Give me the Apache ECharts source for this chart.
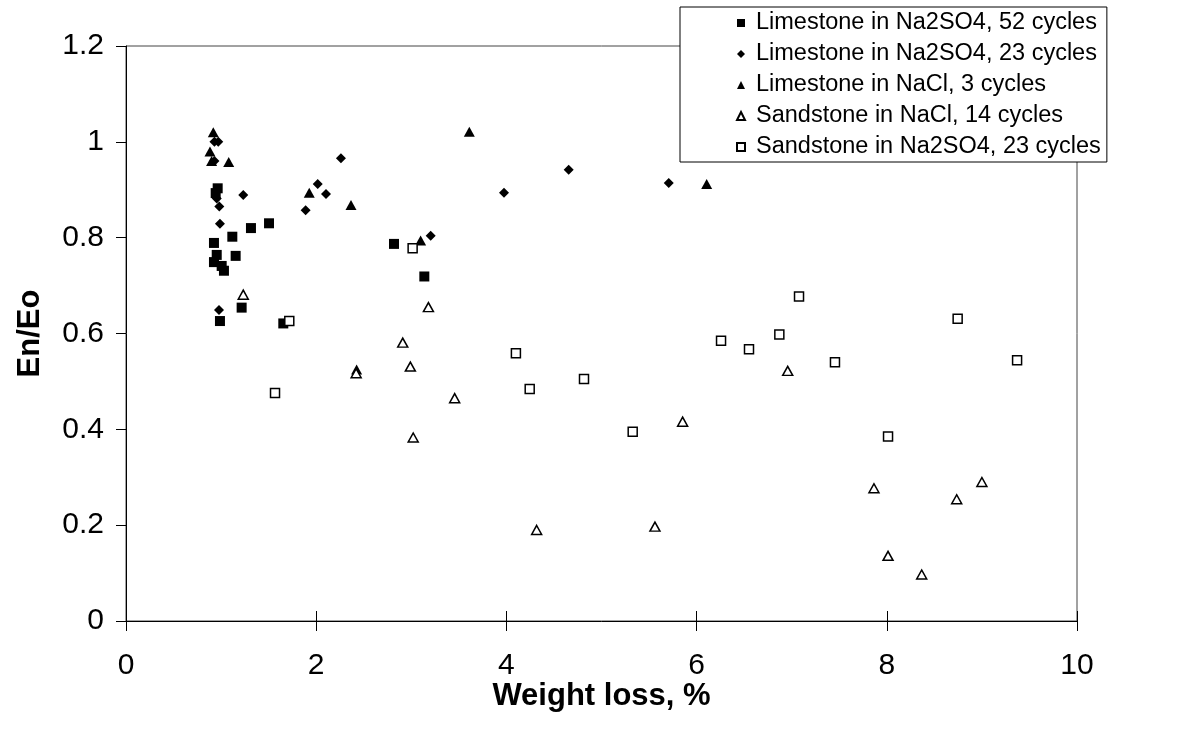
<!DOCTYPE html>
<html>
<head>
<meta charset="utf-8">
<script src="https://cdn.jsdelivr.net/npm/echarts@6/dist/echarts.min.js"></script>
<style>
  html, body { margin: 0; padding: 0; background: #fff; }
  #chart { width: 1188px; height: 737px; }
</style>
</head>
<body>
<div id="chart"></div>
<script>
// [weight loss %, En/Eo]
const limeSulfate52 = [
  [0.964, 0.903], [0.943, 0.893], [1.314, 0.820], [1.504, 0.830], [1.118, 0.802],
  [0.925, 0.789], [0.954, 0.764], [1.153, 0.762], [0.925, 0.749], [1.006, 0.741],
  [1.030, 0.731], [1.216, 0.654], [0.988, 0.626], [1.654, 0.621], [2.818, 0.787],
  [3.137, 0.719]
]
const limeSulfate23 = [
  [0.93, 1.000], [0.97, 1.000], [0.93, 0.960], [0.954, 0.882], [0.981, 0.865],
  [1.233, 0.889], [0.988, 0.829], [0.978, 0.649], [1.889, 0.857], [2.016, 0.912],
  [2.103, 0.891], [2.260, 0.966], [3.204, 0.804], [3.975, 0.894], [4.655, 0.942],
  [5.707, 0.914]
]
const limeNaCl3 = [
  [0.918, 1.020], [0.883, 0.980], [0.900, 0.960], [1.080, 0.958], [1.927, 0.894],
  [2.366, 0.868], [2.425, 0.525], [3.098, 0.794], [3.610, 1.021], [6.106, 0.912]
]
const sandNaCl14 = [
  [1.233, 0.681], [2.420, 0.517], [2.910, 0.581], [2.990, 0.531], [3.020, 0.383],
  [3.180, 0.655], [3.456, 0.465], [4.318, 0.190], [5.562, 0.197], [5.853, 0.416],
  [6.958, 0.522], [7.865, 0.277], [8.013, 0.136], [8.367, 0.097], [8.735, 0.254],
  [9.000, 0.290]
]
const sandSulfate23 = [
  [1.567, 0.476], [1.717, 0.626], [3.014, 0.778], [4.100, 0.559], [4.245, 0.484],
  [4.816, 0.505], [5.328, 0.395], [6.257, 0.585], [6.551, 0.567], [6.870, 0.598],
  [7.077, 0.677], [7.455, 0.540], [8.013, 0.385], [8.745, 0.631], [9.370, 0.544]
]
const seriesNames = [
  'Limestone in Na2SO4, 52 cycles',
  'Limestone in Na2SO4, 23 cycles',
  'Limestone in NaCl, 3 cycles',
  'Sandstone in NaCl, 14 cycles',
  'Sandstone in Na2SO4, 23 cycles'
]

const font = 'Liberation Sans, Arial, sans-serif'
const filled = { color: '#000', borderColor: '#000', borderWidth: 0, opacity: 1 }
const hollow = { color: '#fff', borderColor: '#000', borderWidth: 1.5, opacity: 1 }

function scatter (name, data, symbol, size, style) {
  return {
    name: name,
    type: 'scatter',
    data: data,
    symbol: symbol,
    symbolSize: size,
    itemStyle: style,
    emphasis: { disabled: true }
  }
}

let chart = echarts.init(document.getElementById('chart'))
let option = {
  backgroundColor: '#fff',
  animation: false,
  grid: {
    left: 126,
    right: 111,
    top: 46,
    bottom: 116,
    show: true,
    borderColor: '#444',
    borderWidth: 1
  },
  legend: {
    orient: 'vertical',
    left: 680,
    top: 7,
    padding: [4, 6, 3, 56],
    itemWidth: 8,
    itemHeight: 8,
    itemGap: 7,
    backgroundColor: '#fff',
    borderColor: '#000',
    borderWidth: 1,
    borderRadius: 0,
    textStyle: { fontFamily: font, fontSize: 23.5, color: '#000', lineHeight: 23, padding: [0, 0, 0, 6] },
    data: seriesNames
  },
  xAxis: [
    {
      type: 'value',
      min: 0,
      max: 10,
      interval: 2,
      name: 'Weight loss, %',
      nameLocation: 'middle',
      nameGap: 60,
      nameMoveOverlap: false,
      nameTextStyle: { fontFamily: font, fontSize: 31, fontWeight: 'bold', color: '#000' },
      axisLine: { lineStyle: { color: '#000', width: 1 } },
      axisTick: { length: 10, lineStyle: { color: '#000' } },
      axisLabel: { margin: 30, fontFamily: font, fontSize: 30, color: '#000' },
      splitLine: { show: false }
    },
    {
      type: 'value',
      position: 'bottom',
      min: 0,
      max: 10,
      interval: 2,
      axisLine: { show: false },
      axisTick: { inside: true, length: 10, lineStyle: { color: '#000' } },
      axisLabel: { show: false },
      splitLine: { show: false }
    }
  ],
  yAxis: {
    type: 'value',
    min: 0,
    max: 1.2,
    interval: 0.2,
    name: 'En/Eo',
    nameLocation: 'middle',
    nameGap: 80,
    nameMoveOverlap: false,
    nameTextStyle: { fontFamily: font, fontSize: 31, fontWeight: 'bold', color: '#000' },
    axisLine: { show: true, lineStyle: { color: '#000', width: 1 } },
    axisTick: { show: true, length: 10, lineStyle: { color: '#000' } },
    axisLabel: { margin: 22, fontFamily: font, fontSize: 30, color: '#000' },
    splitLine: { show: false }
  },
  series: [
    scatter(seriesNames[0], limeSulfate52, 'rect', 10, filled),
    scatter(seriesNames[1], limeSulfate23, 'diamond', 10, filled),
    scatter(seriesNames[2], limeNaCl3, 'triangle', [11, 10], filled),
    scatter(seriesNames[3], sandNaCl14, 'triangle', [10, 9], hollow),
    scatter(seriesNames[4], sandSulfate23, 'rect', 9, hollow)
  ]
}
chart.setOption(option)
</script>
</body>
</html>
